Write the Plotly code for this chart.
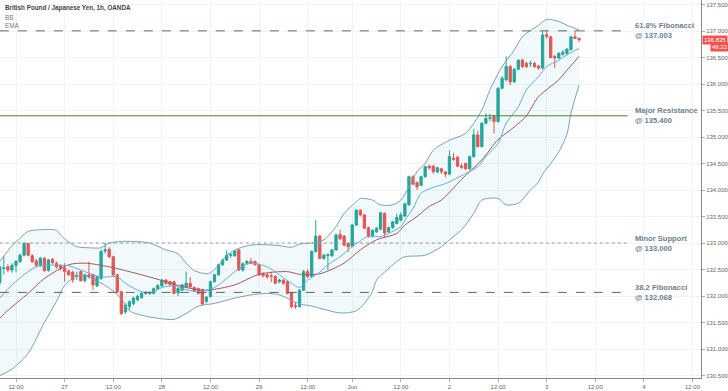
import plotly.graph_objects as go

# ---------------- data ----------------
bar_index = list(range(-4, 140))

opens = [132.25,132.52,132.55,132.49,132.58,132.65,132.77,132.99,132.76,132.66,132.58,132.71,132.48,132.69,132.62,132.57,
         132.53,132.47,132.45,132.37,132.46,132.29,132.40,132.40,132.19,132.33,132.85,132.88,132.74,132.40,132.08,131.70,
         131.80,131.86,131.93,131.97,132.05,132.05,132.05,132.14,132.19,132.30,132.27,132.27,132.06,132.11,132.17,132.24,
         132.16,132.14,132.12,131.90,131.99,132.27,132.40,132.59,132.68,132.77,132.76,132.87,132.49,132.62,132.65,132.65,
         132.59,132.42,132.40,132.38,132.37,132.27,132.30,132.27,132.06,131.82,131.80,132.11,132.46,132.37,132.84,133.13,
         132.71,132.76,132.76,132.87,133.16,133.13,132.99,132.94,133.34,133.62,133.53,133.29,133.13,133.21,133.26,133.56,
         133.21,133.29,133.37,133.43,133.51,133.72,134.25,134.14,134.09,134.25,134.45,134.45,134.34,134.40,134.34,134.30,
         134.60,134.62,134.45,134.50,134.40,134.63,135.04,134.82,135.26,135.35,135.385,135.29,135.92,136.08,136.33,136.04,
         136.28,136.45,136.39,136.38,136.39,136.34,136.30,136.93,136.89,136.52,136.49,136.56,136.58,136.65,136.89,136.86]
highs = [132.58,132.75,132.60,132.62,132.68,132.80,133.01,133.00,132.79,132.70,132.74,132.74,132.70,132.72,132.65,132.60,
         132.62,132.50,132.48,132.46,132.48,132.42,132.65,132.42,132.38,132.88,133.00,132.92,132.76,132.42,132.10,131.86,
         131.92,131.99,132.02,132.08,132.09,132.08,132.16,132.22,132.32,132.32,132.29,132.29,132.16,132.23,132.46,132.36,
         132.18,132.16,132.14,132.00,132.29,132.42,132.61,132.70,132.86,132.81,132.87,132.89,132.63,132.68,132.72,132.67,
         132.61,132.45,132.43,132.46,132.39,132.33,132.32,132.29,132.08,131.88,132.13,132.49,132.50,132.86,133.43,133.15,
         132.80,132.80,132.89,133.18,133.25,133.15,133.01,133.36,133.64,133.64,133.55,133.31,133.26,133.30,133.59,133.58,
         133.31,133.42,133.55,133.58,133.76,134.27,134.28,134.16,134.27,134.46,134.48,134.47,134.44,134.42,134.36,134.75,
         134.70,134.64,134.50,134.52,134.65,135.15,135.12,135.28,135.45,135.44,135.42,135.94,136.15,136.52,136.36,136.30,
         136.47,136.48,136.42,136.44,136.42,136.36,137.00,137.02,136.91,136.55,136.60,136.64,136.67,136.91,137.02,136.88]
lows = [132.20,132.40,132.45,132.44,132.45,132.62,132.75,132.75,132.62,132.55,132.55,132.45,132.46,132.60,132.52,132.48,
        132.27,132.38,132.25,132.30,132.27,132.26,132.33,132.11,132.17,132.30,132.80,132.72,132.38,132.05,131.64,131.66,
        131.74,131.82,131.90,131.95,132.02,132.02,132.03,132.12,132.17,132.21,132.19,132.03,132.00,132.09,132.15,132.15,
        132.08,132.03,131.83,131.86,131.97,132.25,132.38,132.57,132.66,132.72,132.74,132.47,132.46,132.60,132.60,132.57,
        132.38,132.35,132.33,132.26,132.22,132.24,132.21,132.03,131.77,131.76,131.78,132.09,132.34,132.35,132.82,132.69,
        132.68,132.49,132.74,132.85,133.05,132.94,132.83,132.92,133.32,133.50,133.26,133.10,133.10,133.19,133.24,133.10,
        133.19,133.27,133.35,133.41,133.49,133.70,134.09,134.00,134.07,134.23,134.38,134.30,134.32,134.30,134.24,134.28,
        134.55,134.43,134.40,134.38,134.38,134.61,134.80,134.80,135.24,135.30,135.07,135.27,135.90,136.05,135.98,136.02,
        136.26,136.30,136.30,136.32,136.30,136.27,136.28,136.85,136.48,136.30,136.47,136.53,136.54,136.63,136.85,136.79]
closes = [132.55,132.53,132.49,132.58,132.65,132.77,132.99,132.77,132.65,132.58,132.71,132.48,132.68,132.63,132.55,132.52,
          132.46,132.40,132.30,132.38,132.29,132.40,132.37,132.21,132.36,132.84,132.87,132.74,132.40,132.08,131.67,131.83,
          131.89,131.96,131.99,132.05,132.05,132.06,132.14,132.20,132.30,132.24,132.22,132.05,132.14,132.21,132.24,132.17,
          132.10,132.05,131.85,131.98,132.27,132.40,132.59,132.68,132.77,132.78,132.85,132.49,132.61,132.65,132.62,132.59,
          132.40,132.38,132.36,132.37,132.24,132.30,132.24,132.05,131.80,131.80,132.11,132.46,132.37,132.84,133.13,132.71,
          132.77,132.78,132.87,133.15,133.08,132.96,132.93,133.34,133.62,133.53,133.28,133.12,133.24,133.28,133.57,133.19,
          133.29,133.40,133.48,133.53,133.74,134.25,134.11,134.06,134.25,134.44,134.42,134.35,134.42,134.35,134.30,134.63,
          134.58,134.45,134.43,134.40,134.63,135.04,134.82,135.26,135.35,135.36,135.29,135.92,136.11,136.33,136.04,136.28,
          136.45,136.33,136.33,136.39,136.33,136.30,136.925,136.90,136.50,136.49,136.58,136.60,136.66,136.89,136.86,136.835]

upper_idx = [-4,-1,1,3,6,10,11,13,15,18,21,23,26,29,33,37,40,42,44,47,48,50,52,55,58,61,65,68,70,73,76,79,81,84,85,88,90,93,95,
             97,99,101,103,107,111,115,117,120,123,125,129,131,134,136,139]
upper_val = [132.65,132.95,133.09,133.22,133.25,133.24,133.15,133.02,132.93,132.91,132.91,133.00,133.03,133.03,133.00,132.87,
             132.80,132.62,132.48,132.42,132.44,132.58,132.77,132.90,132.96,132.97,132.95,132.92,132.98,133.00,133.06,133.31,
             133.56,133.78,133.84,133.81,133.72,133.72,133.81,134.06,134.35,134.50,134.75,134.94,135.07,135.51,135.89,136.33,
             136.64,136.89,137.11,137.22,137.18,137.11,137.02]
lower_idx = [-4,-1,3,7,10,12,15,17,20,23,26,28,32,36,39,42,45,49,54,58,62,65,68,70,73,76,80,84,86,88,89,91,94,96,101,105,107,
             110,113,115,119,121,124,127,129,130,132,134,136,137,139]
lower_val = [130.50,130.62,130.92,131.50,131.90,132.20,132.38,132.38,132.28,132.15,131.95,131.72,131.62,131.57,131.56,131.67,
             131.81,131.86,131.96,132.02,132.05,132.02,131.92,131.85,131.81,131.75,131.68,131.72,131.86,132.08,132.30,132.45,
             132.65,132.74,132.77,132.93,133.06,133.25,133.56,133.81,133.84,133.72,133.75,134.00,134.15,134.30,134.50,134.72,
             135.05,135.45,135.98]
basis_idx = [-4,-2,3,7,13,17,23,31,37,42,47,54,60,67,70,75,81,85,89,94,96,99,102,105,110,115,119,123,126,129,134,136,139]
basis_val = [131.58,131.73,132.05,132.33,132.59,132.62,132.55,132.40,132.27,132.16,132.11,132.21,132.41,132.46,132.41,132.42,
             132.62,132.87,133.06,133.18,133.34,133.50,133.69,133.81,134.20,134.57,134.95,135.19,135.40,135.76,136.08,136.26,
             136.52]
ema_idx = [-4,-1,3,5,8,13,16,21,25,27,31,34,36,39,42,45,49,52,55,58,62,65,68,70,72,75,77,80,82,85,87,90,92,95,96,98,100,103,
           106,111,114,116,119,121,124,126,129,131,134,136,139]
ema_val = [131.96,132.21,132.46,132.55,132.58,132.57,132.49,132.36,132.36,132.24,132.08,132.08,132.16,132.19,132.12,132.08,
           132.16,132.33,132.52,132.62,132.55,132.40,132.24,132.16,132.30,132.45,132.59,132.74,132.87,133.04,133.13,133.12,
           133.18,133.31,133.43,133.65,133.94,134.05,134.12,134.31,134.44,134.63,134.88,135.26,135.57,135.89,136.14,136.33,
           136.45,136.55,136.67]

tick_pos = [0, 12, 24, 36, 48, 60, 72, 83, 95, 107, 119, 131, 143, 155, 167]
tick_text = ["12:00", "27", "12:00", "28", "12:00", "29", "12:00", "Jun", "12:00", "2", "12:00", "3", "12:00", "4", "12:00"]
price_ticks = [130.5, 131.0, 131.5, 132.0, 132.5, 133.0, 133.5, 134.0, 134.5, 135.0, 135.5, 136.0, 136.5, 137.0, 137.5]

levels = [137.003, 135.400, 133.000, 132.068]
level_names = ["61.8% Fibonacci", "Major Resistance", "Minor Support", "38.2 Fibonacci"]
level_colors = ["#5f6f60", "#4f7f36", "#9a9a9a", "#5f6a55"]
level_dash = ["dash", "solid", "dot", "dash"]

last_price = 136.835
countdown = "49:22"

# ---------------- figure ----------------
fig = go.Figure()

band_line = dict(color="#79a3b3", width=1, shape="spline", smoothing=0.8)
fig.add_trace(go.Scatter(x=upper_idx, y=upper_val, mode="lines", line=band_line, hoverinfo="skip"))
fig.add_trace(go.Scatter(x=lower_idx, y=lower_val, mode="lines", line=band_line, fill="tonexty",
                         fillcolor="rgba(40,150,175,0.06)", hoverinfo="skip"))
fig.add_trace(go.Scatter(x=basis_idx, y=basis_val, mode="lines",
                         line=dict(color="#a5575e", width=1, shape="spline", smoothing=0.8), hoverinfo="skip"))
fig.add_trace(go.Scatter(x=ema_idx, y=ema_val, mode="lines",
                         line=dict(color="#62aee0", width=1, shape="spline", smoothing=0.8), hoverinfo="skip"))

fig.add_trace(go.Candlestick(
    x=bar_index, open=opens, high=highs, low=lows, close=closes,
    increasing=dict(line=dict(color="#26a69a", width=1), fillcolor="#26a69a"),
    decreasing=dict(line=dict(color="#ef5350", width=1), fillcolor="#ef5350"),
    whiskerwidth=0,
))

x_end_line = 151
x_text = 152.2
for lv, name, col, dsh in zip(levels, level_names, level_colors, level_dash):
    fig.add_shape(type="line", xref="x", yref="y", x0=-4, x1=x_end_line, y0=lv, y1=lv,
                  line=dict(color=col, width=1, dash=dsh))
    fig.add_annotation(x=x_text, y=lv, xref="x", yref="y", xanchor="left", yanchor="middle",
                       text="<b>%s<br>@ %.3f</b>" % (name, lv), showarrow=False, align="left",
                       font=dict(family="Liberation Sans, Arial", size=7.6, color="#6f7e8f"))

# header texts
fig.add_annotation(x=0, y=1, xref="paper", yref="paper", xanchor="left", yanchor="top", xshift=3, yshift=-2,
                   text="<b>British Pound / Japanese Yen, 1h, OANDA</b>", showarrow=False,
                   font=dict(family="Liberation Sans, Arial", size=6.3, color="#444"))
fig.add_annotation(x=0, y=1, xref="paper", yref="paper", xanchor="left", yanchor="top", xshift=3, yshift=-12,
                   text="BB", showarrow=False, font=dict(family="Liberation Sans, Arial", size=6.3, color="#777"))
fig.add_annotation(x=0, y=1, xref="paper", yref="paper", xanchor="left", yanchor="top", xshift=3, yshift=-20,
                   text="EMA", showarrow=False, font=dict(family="Liberation Sans, Arial", size=6.3, color="#777"))

# last price labels
fig.add_annotation(x=1, y=last_price, xref="paper", yref="y", xanchor="left", yanchor="middle", xshift=1,
                   text="%.3f" % last_price, showarrow=False, bgcolor="#ef5350", borderpad=1,
                   font=dict(family="Liberation Sans, Arial", size=6, color="white"))
fig.add_annotation(x=1, y=last_price, xref="paper", yref="y", xanchor="left", yanchor="middle", xshift=9, yshift=-7,
                   text=countdown, showarrow=False, bgcolor="#ef5350", borderpad=1,
                   font=dict(family="Liberation Sans, Arial", size=6, color="white"))

fig.update_layout(
    width=728, height=391,
    margin=dict(l=0, r=27, t=0, b=13),
    paper_bgcolor="white", plot_bgcolor="white",
    showlegend=False,
    boxgap=0.2,
    xaxis=dict(range=[-3.95, 169.1], tickvals=tick_pos, ticktext=tick_text, rangeslider=dict(visible=False),
               showgrid=True, gridcolor="#f0f3f8", gridwidth=1, zeroline=False,
               showline=True, linecolor="#888", linewidth=1, ticks="outside", ticklen=3, tickcolor="#aaa",
               tickfont=dict(family="Liberation Sans, Arial", size=6, color="#666")),
    yaxis=dict(range=[130.453, 137.585], side="right", tickvals=price_ticks,
               ticktext=["%.3f" % v for v in price_ticks],
               showgrid=True, gridcolor="#f0f3f8", gridwidth=1, zeroline=False,
               showline=True, linecolor="#888", linewidth=1, ticks="outside", ticklen=3, tickcolor="#aaa",
               tickfont=dict(family="Liberation Sans, Arial", size=6, color="#666")),
)

fig.write_html("out.html", config={"displayModeBar": False},
               post_script="document.body.style.margin='0px';document.body.style.padding='0px';")
